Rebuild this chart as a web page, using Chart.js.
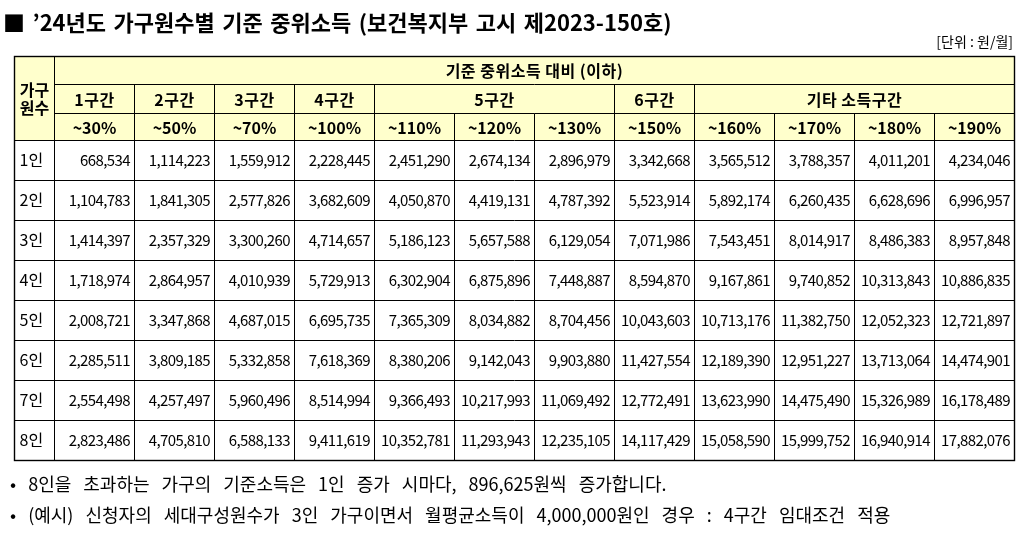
<!DOCTYPE html>
<html>
<head>
<meta charset="utf-8">
<script src="https://cdn.jsdelivr.net/npm/chart.js@4/dist/chart.umd.min.js"></script>
<style>
  html, body { margin: 0; padding: 0; background: #fff; }
  body { width: 1033px; height: 534px; position: relative; overflow: hidden;
         font-family: "Noto Sans CJK KR", "Noto Sans", sans-serif; color: #000; }
  #title { position: absolute; left: 3px; top: 5px; font-size: 22px; font-weight: bold; white-space: pre; word-spacing: 2.5px; }
  #unit { position: absolute; right: 20px; top: 31px; font-size: 14px; white-space: pre; }
  .note { position: absolute; left: 10px; font-size: 18px; white-space: pre; word-spacing: 8px; }
  #wrap { position: absolute; left: 0; top: 0; width: 1033px; height: 534px; }
</style>
</head>
<body>
<div id="wrap"><canvas id="table" width="1033" height="534"></canvas></div>
<div id="title">■ ’24년도 가구원수별 기준 중위소득 (보건복지부 고시 제2023-150호)</div>
<div id="unit">[단위 : 원/월]</div>
<div class="note" style="top:470px">• 8인을 초과하는 가구의 기준소득은 1인 증가 시마다, 896,625원씩 증가합니다.</div>
<div class="note" style="top:501px">• (예시) 신청자의 세대구성원수가 3인 가구이면서 월평균소득이 4,000,000원인 경우 : 4구간 임대조건 적용</div>
<script>
// 표 데이터
const householdSizes = ['1인', '2인', '3인', '4인', '5인', '6인', '7인', '8인'];
const bandLabels = ['~30%', '~50%', '~70%', '~100%', '~110%', '~120%', '~130%', '~150%', '~160%', '~170%', '~180%', '~190%'];
const groupLabels = ['1구간', '2구간', '3구간', '4구간', '5구간', '6구간', '기타 소득구간'];
const groupSpans = [1, 1, 1, 1, 3, 1, 4];
const topHeader = '기준 중위소득 대비 (이하)';
const cornerHeader = ['가구', '원수'];

const income1 = [668534, 1114223, 1559912, 2228445, 2451290, 2674134, 2896979, 3342668, 3565512, 3788357, 4011201, 4234046];
const income2 = [1104783, 1841305, 2577826, 3682609, 4050870, 4419131, 4787392, 5523914, 5892174, 6260435, 6628696, 6996957];
const income3 = [1414397, 2357329, 3300260, 4714657, 5186123, 5657588, 6129054, 7071986, 7543451, 8014917, 8486383, 8957848];
const income4 = [1718974, 2864957, 4010939, 5729913, 6302904, 6875896, 7448887, 8594870, 9167861, 9740852, 10313843, 10886835];
const income5 = [2008721, 3347868, 4687015, 6695735, 7365309, 8034882, 8704456, 10043603, 10713176, 11382750, 12052323, 12721897];
const income6 = [2285511, 3809185, 5332858, 7618369, 8380206, 9142043, 9903880, 11427554, 12189390, 12951227, 13713064, 14474901];
const income7 = [2554498, 4257497, 5960496, 8514994, 9366493, 10217993, 11069492, 12772491, 13623990, 14475490, 15326989, 16178489];
const income8 = [2823486, 4705810, 6588133, 9411619, 10352781, 11293943, 12235105, 14117429, 15058590, 15999752, 16940914, 17882076];
const incomeRows = [income1, income2, income3, income4, income5, income6, income7, income8];

const FONT = '"Noto Sans CJK KR", "Noto Sans", sans-serif';
const HEADER_BG = '#ffffcc';
// 헤더 행 경계 (y축 단위, 데이터 행 = 1)
const H0 = -2.1, H1 = -1.4, H2 = -0.675;

const tablePlugin = {
  id: 'tablePlugin',
  beforeDatasetsDraw(chart) {
    const { ctx, scales: { x, y } } = chart;
    const px = v => Math.round(x.getPixelForValue(v)) + 0.5;
    const py = v => Math.round(y.getPixelForValue(v)) + 0.5;
    const nCols = bandLabels.length, nRows = householdSizes.length;
    const left = px(-0.5), right = px(nCols), top = py(H0), bottom = py(nRows);

    ctx.save();
    ctx.fillStyle = HEADER_BG;
    ctx.fillRect(left, top, right - left, py(0) - top);

    ctx.strokeStyle = '#000';
    ctx.lineWidth = 1;
    const line = (x1, y1, x2, y2) => { ctx.beginPath(); ctx.moveTo(x1, y1); ctx.lineTo(x2, y2); ctx.stroke(); };

    // 가로선
    line(px(0), py(H1), right, py(H1));
    line(px(0), py(H2), right, py(H2));
    for (let r = 0; r < nRows; r++) line(left, py(r), right, py(r));
    // 세로선
    line(px(0), top, px(0), bottom);
    let c = 0;
    groupSpans.forEach(span => { c += span; if (c < nCols) line(px(c), py(H1), px(c), py(H2)); });
    for (let i = 1; i < nCols; i++) line(px(i), py(H2), px(i), bottom);
    // 바깥 테두리
    ctx.lineWidth = 1.4;
    ctx.strokeRect(left, top, right - left, bottom - top);

    // 헤더 글자
    ctx.fillStyle = '#000';
    ctx.textAlign = 'center';
    ctx.textBaseline = 'middle';
    ctx.font = 'bold 16px ' + FONT;
    ctx.letterSpacing = '0.5px';
    const cy = (a, b) => (y.getPixelForValue(a) + y.getPixelForValue(b)) / 2 + 1;
    ctx.fillText(topHeader, (px(0) + right) / 2, cy(H0, H1));
    c = 0;
    groupLabels.forEach((g, i) => {
      const s = groupSpans[i];
      ctx.fillText(g, (px(c) + px(c + s)) / 2, cy(H1, H2));
      c += s;
    });
    ctx.letterSpacing = '0px';
    bandLabels.forEach((b, i) => ctx.fillText(b, (px(i) + px(i + 1)) / 2, cy(H2, 0)));
    ctx.font = 'bold 16px ' + FONT;
    const midY = cy(H0, 0);
    ctx.fillText(cornerHeader[0], (left + px(0)) / 2, midY - 9);
    ctx.fillText(cornerHeader[1], (left + px(0)) / 2, midY + 9);

    // 행 제목
    ctx.font = '16px ' + FONT;
    ctx.textAlign = 'left';
    householdSizes.forEach((h, r) => ctx.fillText(h, left + 5, cy(r, r + 1) - 1));
    ctx.restore();
  },
  afterDatasetsDraw(chart) {
    const { ctx, scales: { x } } = chart;
    ctx.save();
    ctx.fillStyle = '#000';
    ctx.font = '15px ' + FONT;
    ctx.letterSpacing = '-0.6px';
    ctx.textAlign = 'right';
    ctx.textBaseline = 'middle';
    const half = (x.getPixelForValue(1) - x.getPixelForValue(0)) / 2;
    chart.data.datasets.forEach((ds, di) => {
      chart.getDatasetMeta(di).data.forEach((pt, i) => {
        ctx.fillText(ds.data[i].v.toLocaleString('en-US'), pt.x + half - 4, pt.y);
      });
    });
    ctx.restore();
  }
};

new Chart(document.getElementById('table'), {
  type: 'scatter',
  data: {
    datasets: incomeRows.map((row, r) => ({
      label: householdSizes[r],
      data: row.map((v, c) => ({ x: c + 0.5, y: r + 0.5, v })),
      pointRadius: 0,
      pointHoverRadius: 0
    }))
  },
  options: {
    responsive: false,
    animation: false,
    events: [],
    layout: { padding: { left: 14, right: 19, top: 56, bottom: 74 } },
    plugins: { legend: { display: false }, tooltip: { enabled: false } },
    scales: {
      x: { type: 'linear', min: -0.5, max: 12, display: false },
      y: { type: 'linear', min: H0, max: 8, reverse: true, display: false }
    }
  },
  plugins: [tablePlugin]
});
</script>
</body>
</html>
